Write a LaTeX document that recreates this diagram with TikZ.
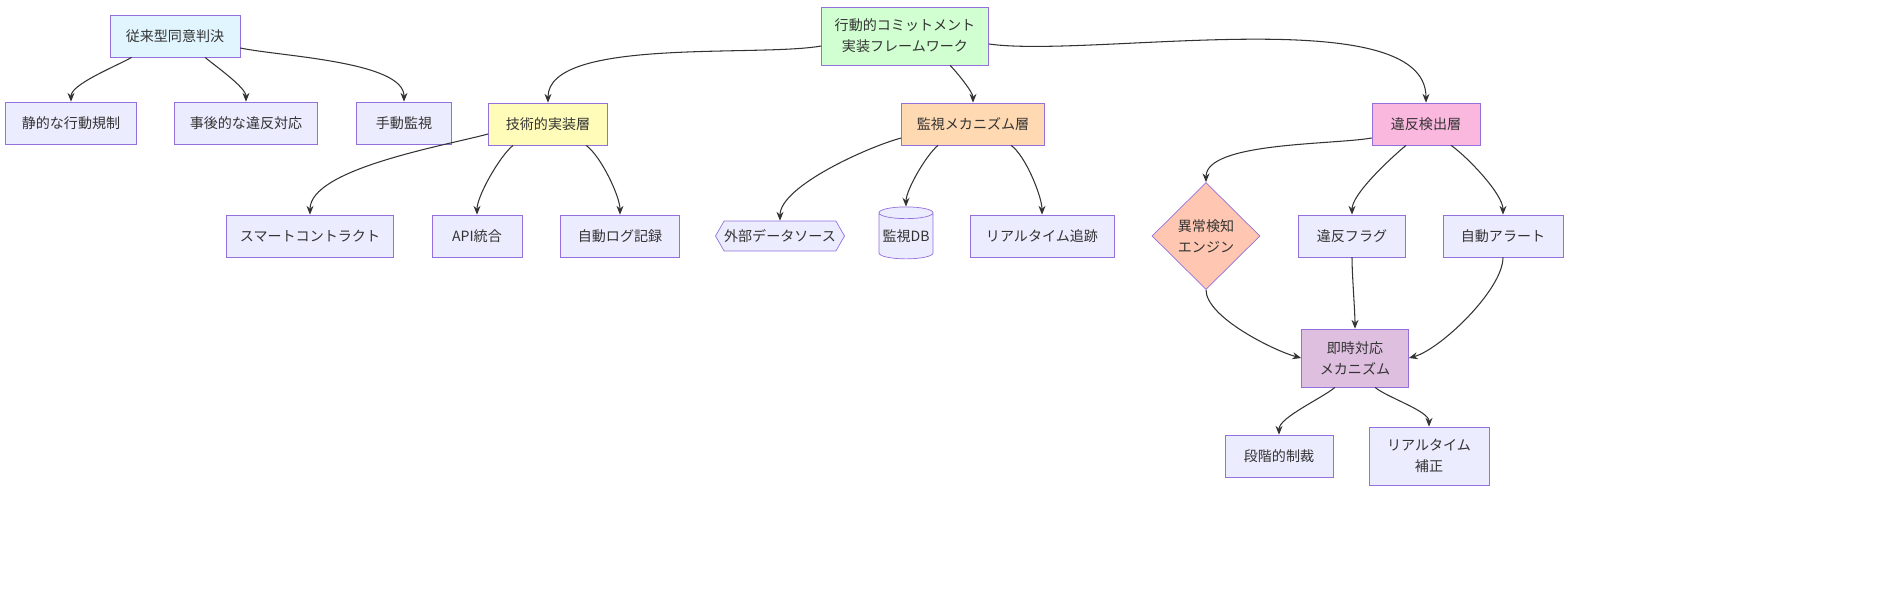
\documentclass[tikz,border=0pt]{standalone}
\usepackage{fontspec}
\setmainfont{Noto Sans CJK JP}
\usetikzlibrary{arrows.meta,shapes.geometric,shapes.symbols}
\definecolor{nodefill}{HTML}{ECECFF}
\definecolor{nodeline}{HTML}{9370DB}
\definecolor{edgecol}{HTML}{333333}
\definecolor{tradfill}{HTML}{E1F5FE}
\tikzset{
  box/.style={draw=nodeline,fill=nodefill,rectangle,align=center,inner sep=0pt,
    font=\fontsize{8}{12}\selectfont,text=edgecol,minimum height=0.84cm},
  arr/.style={draw=edgecol,semithick,looseness=0.6,-{Stealth[length=5pt,width=4pt]}}
}
\begin{document}
\begin{tikzpicture}[x=0.02cm,y=-0.02cm]
\useasboundingbox (0,0) rectangle (1904,598);
% top left group
\node[box,fill=tradfill,minimum width=2.6cm] (trad) at (175,36) {従来型同意判決};
\node[box,minimum width=2.62cm] (static) at (71,123) {静的な行動規制};
\node[box,minimum width=2.86cm] (posthoc) at (246,123) {事後的な違反対応};
\node[box,minimum width=1.9cm] (manual) at (404,123) {手動監視};
% framework and layers
\node[box,fill=green!18,minimum width=3.34cm,minimum height=1.16cm] (frame) at (905,36) {行動的コミットメント\\実装フレームワーク};
\node[box,fill=yellow!28,minimum width=2.38cm] (tech) at (548,124) {技術的実装層};
\node[box,fill=orange!30,minimum width=2.86cm] (monit) at (973,124) {監視メカニズム層};
\node[box,fill=magenta!28,minimum width=2.16cm] (viol) at (1426,124) {違反検出層};
% technical layer
\node[box,minimum width=3.34cm] (smart) at (310,236) {スマートコントラクト};
\node[box,minimum width=1.8cm] (api) at (477,236) {API統合};
\node[box,minimum width=2.38cm] (log) at (620,236) {自動ログ記録};
% monitoring layer
\node[box,signal,signal to=west and east,signal pointer angle=120,minimum width=2.48cm,minimum height=0.6cm] (ext) at (780,236) {外部データソース};
\node[box,cylinder,shape border rotate=90,aspect=0.25,minimum width=1.08cm,minimum height=1.04cm] (db) at (906,236) {監視DB};
\node[box,minimum width=2.88cm] (track) at (1042,236) {リアルタイム追跡};
% violation layer
\node[box,diamond,fill=orange!25!pink!70,minimum width=2.16cm,minimum height=2.14cm] (anom) at (1206,236) {異常検知\\エンジン};
\node[box,minimum width=2.14cm] (flag) at (1352,236) {違反フラグ};
\node[box,minimum width=2.4cm] (alert) at (1503,236) {自動アラート};
\node[box,fill=violet!25,minimum width=2.14cm,minimum height=1.16cm] (resp) at (1355,358) {即時対応\\メカニズム};
\node[box,minimum width=2.16cm] (sanc) at (1279,456) {段階的制裁};
\node[box,minimum width=2.4cm,minimum height=1.16cm] (corr) at (1429,456) {リアルタイム\\補正};
% edges
\draw[arr] (trad.south west)++(22,0) to[out=210,in=90] (static.north);
\draw[arr] (trad.south)++(30,0) to[out=-40,in=90] (posthoc.north);
\draw[arr] (trad.east)++(0,12) to[out=-12,in=90] (manual.north);
\draw[arr] (frame.west)++(0,10) to[out=190,in=90] (tech.north);
\draw[arr] (frame.south)++(45,0) to[out=-45,in=90] (monit.north);
\draw[arr] (frame.east)++(0,8) to[out=-8,in=90] (viol.north);
\draw[arr] (tech.west)++(0,10) to[out=195,in=90] (smart.north);
\draw[arr] (tech.south)++(-35,0) to[out=220,in=90] (api.north);
\draw[arr] (tech.south)++(38,0) to[out=-35,in=90] (log.north);
\draw[arr] (monit.west)++(0,14) to[out=195,in=90] (ext.north);
\draw[arr] (monit.south)++(-35,0) to[out=220,in=90] (db.north);
\draw[arr] (monit.south)++(38,0) to[out=-35,in=90] (track.north);
\draw[arr] (viol.west)++(0,14) to[out=190,in=90] (anom.north);
\draw[arr] (viol.south)++(-20,0) to[out=220,in=90] (flag.north);
\draw[arr] (viol.south)++(25,0) to[out=-35,in=90] (alert.north);
\draw[arr] (anom.south) to[out=-90,in=165] (resp.west);
\draw[arr] (flag.south) to[out=-90,in=90] (resp.north);
\draw[arr] (alert.south) to[out=-90,in=15] (resp.east);
\draw[arr] (resp.south)++(-20,0) to[out=-140,in=90] (sanc.north);
\draw[arr] (resp.south)++(20,0) to[out=-40,in=90] (corr.north);
\end{tikzpicture}
\end{document}
